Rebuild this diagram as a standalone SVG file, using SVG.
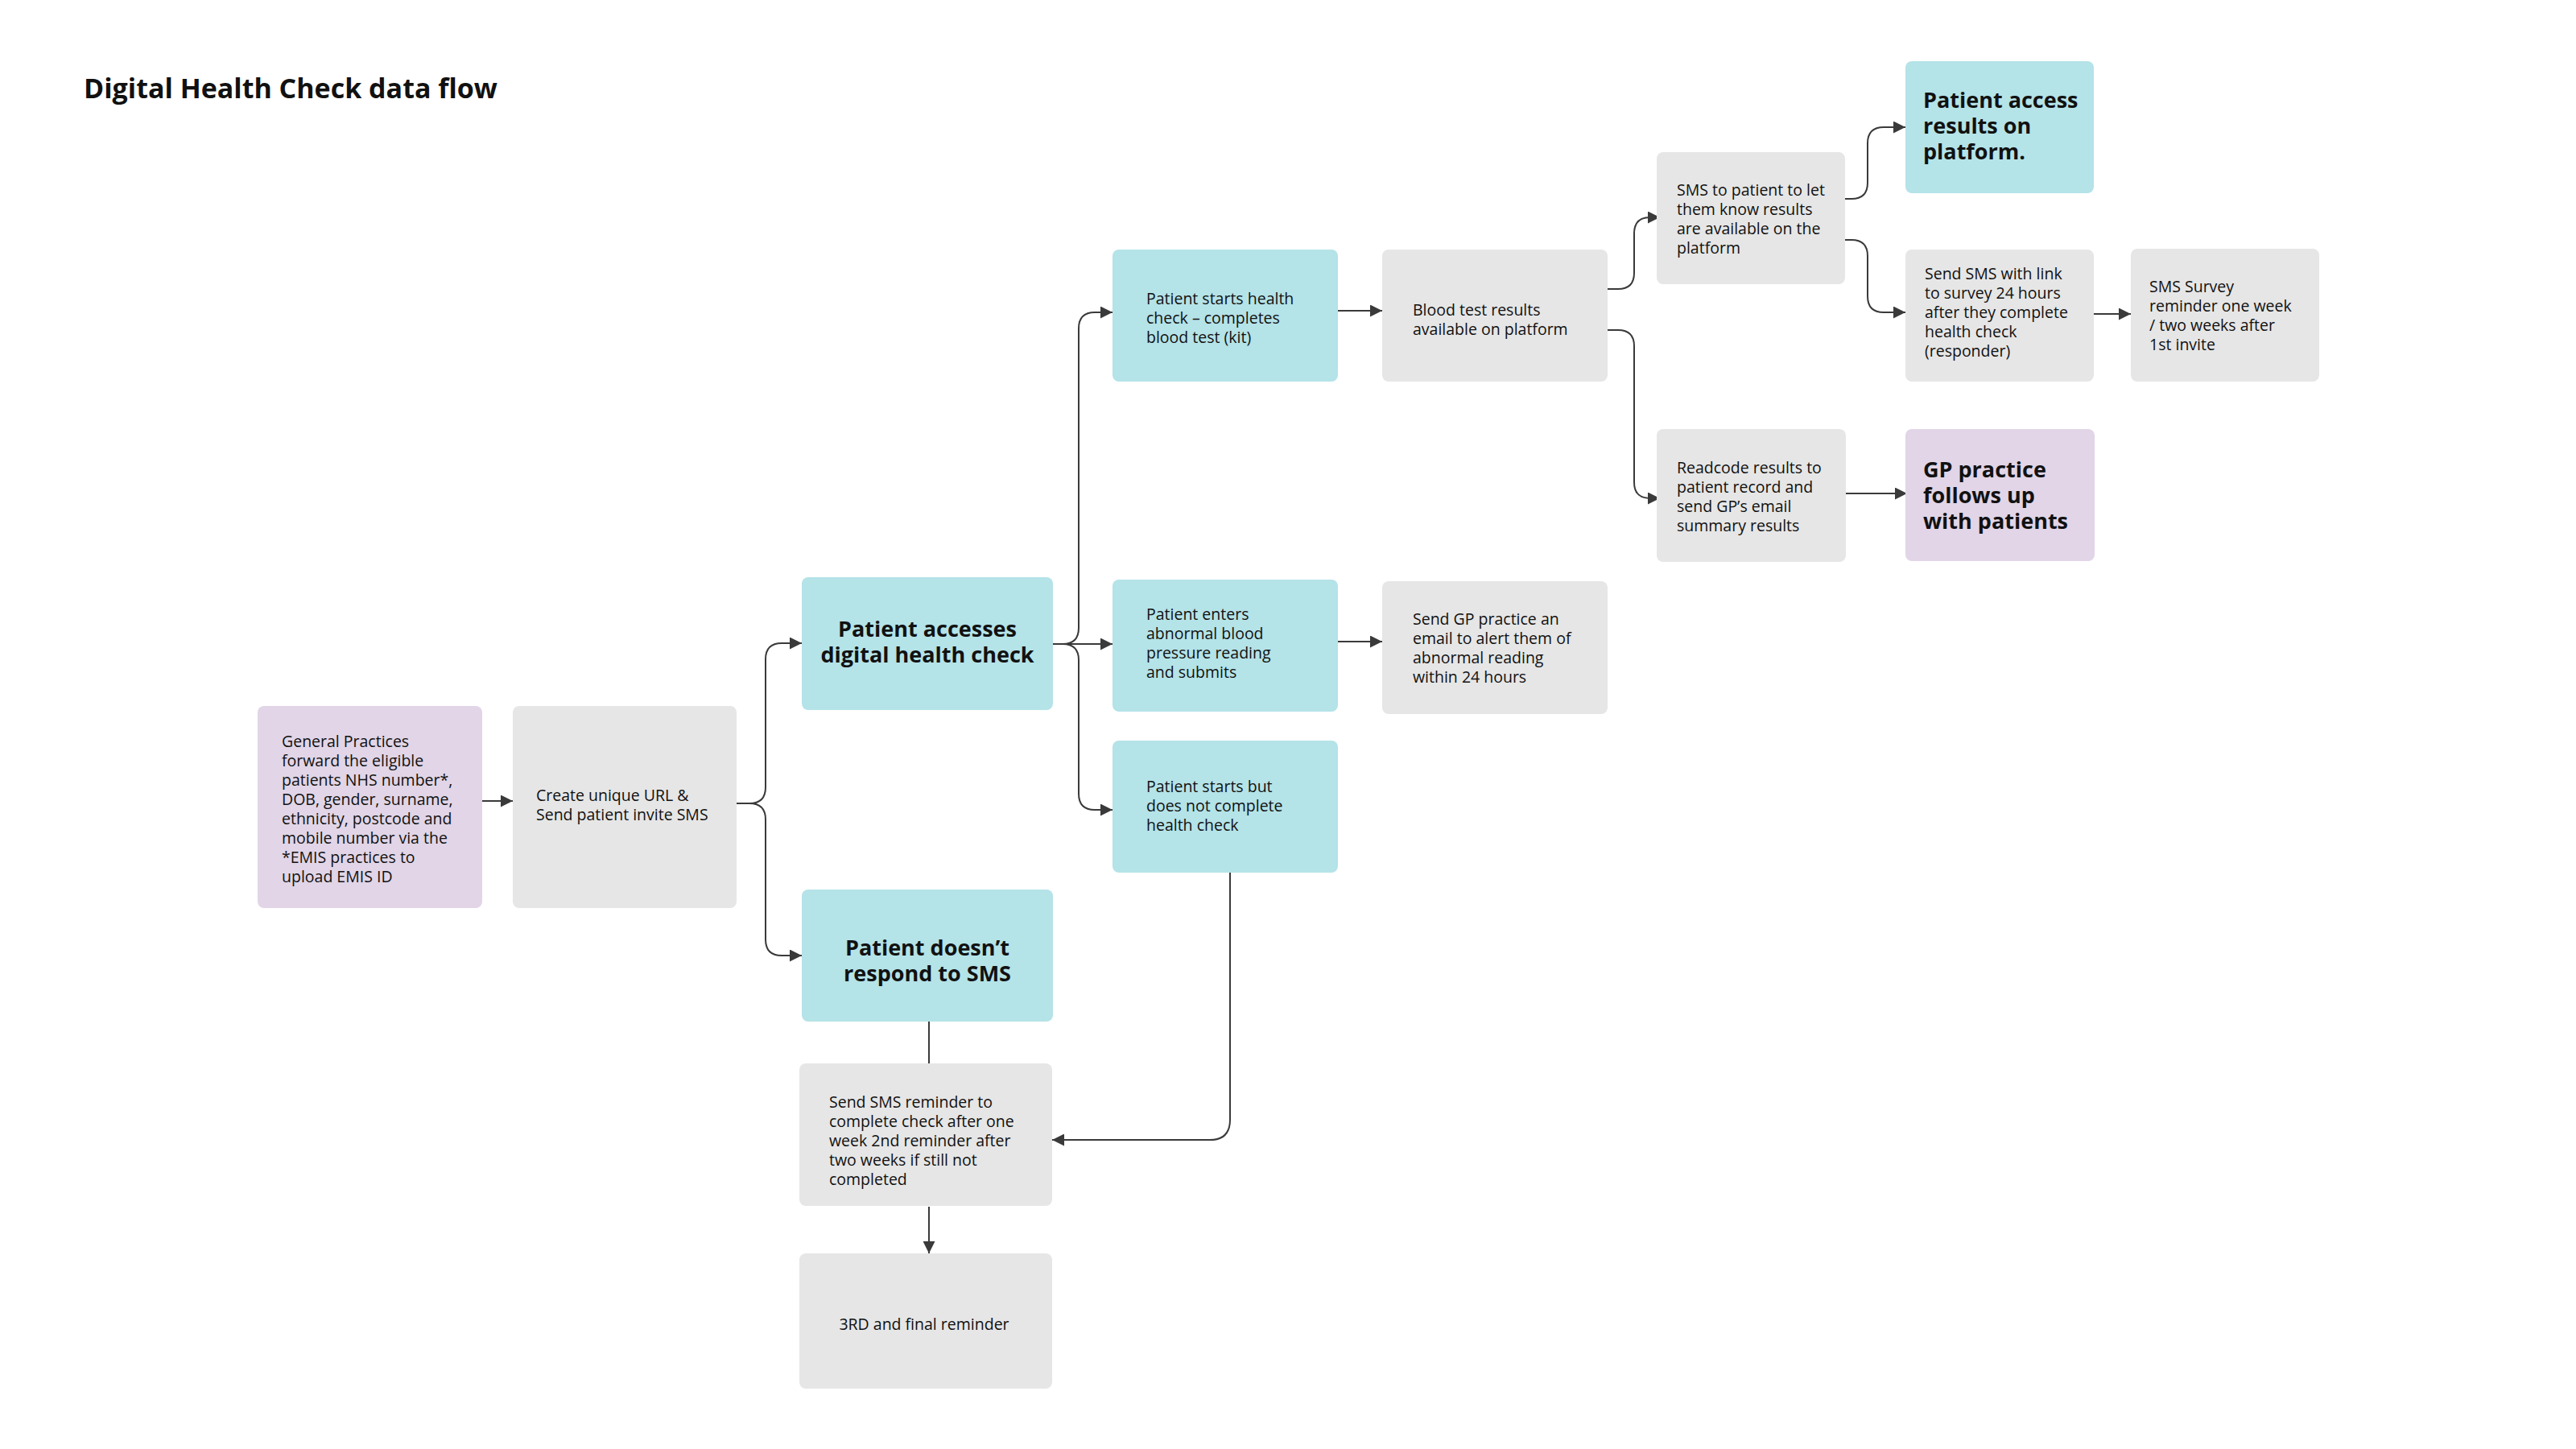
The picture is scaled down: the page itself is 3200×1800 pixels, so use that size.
<svg xmlns="http://www.w3.org/2000/svg" width="3200" height="1800" viewBox="0 0 3200 1800">
<defs>
<style>
.box{stroke:none}
.cy{fill:#B4E3E8}
.pu{fill:#E1D5E7}
.gr{fill:#E6E6E6}
text{font-family:"Open Sans","Liberation Sans",sans-serif;fill:#111}
.t{font-size:19.5px}
.b{font-size:27px;font-weight:700}
.c{text-anchor:middle}
.title{font-size:34px;font-weight:700}
.ln{fill:none;stroke:#3a3a3a;stroke-width:2}
</style>
<marker id="ah" markerUnits="userSpaceOnUse" markerWidth="16" markerHeight="15" refX="15" refY="7.5" orient="auto">
<path d="M0,0 L15,7.5 L0,15 z" fill="#3a3a3a"/>
</marker>
</defs>
<rect width="3200" height="1800" fill="#ffffff"/>
<text class="title" x="104" y="122">Digital Health Check data flow</text>

<g id="connectors">
<path class="ln" marker-end="url(#ah)" d="M578,995 H637"/>
<path class="ln" marker-end="url(#ah)" d="M915,998 H931 Q951,998 951,978 V819 Q951,799 971,799 H996"/>
<path class="ln" marker-end="url(#ah)" d="M915,998 H931 Q951,998 951,1018 V1167 Q951,1187 971,1187 H996"/>
<path class="ln" marker-end="url(#ah)" d="M1308,800 H1320 Q1340,800 1340,780 V408 Q1340,388 1360,388 H1382"/>
<path class="ln" marker-end="url(#ah)" d="M1308,800 H1382"/>
<path class="ln" marker-end="url(#ah)" d="M1308,800 H1320 Q1340,800 1340,820 V986 Q1340,1006 1360,1006 H1382"/>
<path class="ln" marker-end="url(#ah)" d="M1654,386 H1717"/>
<path class="ln" marker-end="url(#ah)" d="M1654,797 H1717"/>
<path class="ln" marker-end="url(#ah)" d="M1997,359 H2010 Q2030,359 2030,339 V290 Q2030,270 2050,270 H2062"/>
<path class="ln" marker-end="url(#ah)" d="M1997,410 H2010 Q2030,410 2030,430 V599 Q2030,619 2050,619 H2062"/>
<path class="ln" marker-end="url(#ah)" d="M2292,247 H2300 Q2320,247 2320,227 V178 Q2320,158 2340,158 H2367"/>
<path class="ln" marker-end="url(#ah)" d="M2292,298 H2300 Q2320,298 2320,318 V368 Q2320,388 2340,388 H2367"/>
<path class="ln" marker-end="url(#ah)" d="M2587,390 H2647"/>
<path class="ln" marker-end="url(#ah)" d="M2292,613 H2369"/>
<path class="ln" d="M1154,1269 V1321"/>
<path class="ln" marker-end="url(#ah)" d="M1154,1499 V1557"/>
<path class="ln" marker-end="url(#ah)" d="M1528,1084 V1391 Q1528,1416 1503,1416 H1307"/>
</g>

<g id="n1">
<rect class="box pu" x="320" y="877" width="279" height="251" rx="8"/>
<text class="t" x="350" y="928">General Practices</text>
<text class="t" x="350" y="952">forward the eligible</text>
<text class="t" x="350" y="976">patients NHS number*,</text>
<text class="t" x="350" y="1000">DOB, gender, surname,</text>
<text class="t" x="350" y="1024">ethnicity, postcode and</text>
<text class="t" x="350" y="1048">mobile number via the</text>
<text class="t" x="350" y="1072">*EMIS practices to</text>
<text class="t" x="350" y="1096">upload EMIS ID</text>
</g>
<g id="n2">
<rect class="box gr" x="637" y="877" width="278" height="251" rx="8"/>
<text class="t" x="666" y="995">Create unique URL &amp;</text>
<text class="t" x="666" y="1019">Send patient invite SMS</text>
</g>
<g id="n3">
<rect class="box cy" x="996" y="717" width="312" height="165" rx="8"/>
<text class="b c" x="1152" y="791">Patient accesses</text>
<text class="b c" x="1152" y="823">digital health check</text>
</g>
<g id="n4">
<rect class="box cy" x="996" y="1105" width="312" height="164" rx="8"/>
<text class="b c" x="1152" y="1187">Patient doesn’t</text>
<text class="b c" x="1152" y="1219">respond to SMS</text>
</g>
<g id="n5">
<rect class="box cy" x="1382" y="310" width="280" height="164" rx="8"/>
<text class="t" x="1424" y="378">Patient starts health</text>
<text class="t" x="1424" y="402">check – completes</text>
<text class="t" x="1424" y="426">blood test (kit)</text>
</g>
<g id="n6">
<rect class="box cy" x="1382" y="720" width="280" height="164" rx="8"/>
<text class="t" x="1424" y="770">Patient enters</text>
<text class="t" x="1424" y="794">abnormal blood</text>
<text class="t" x="1424" y="818">pressure reading</text>
<text class="t" x="1424" y="842">and submits</text>
</g>
<g id="n7">
<rect class="box cy" x="1382" y="920" width="280" height="164" rx="8"/>
<text class="t" x="1424" y="984">Patient starts but</text>
<text class="t" x="1424" y="1008">does not complete</text>
<text class="t" x="1424" y="1032">health check</text>
</g>
<g id="n8">
<rect class="box gr" x="1717" y="310" width="280" height="164" rx="8"/>
<text class="t" x="1755" y="392">Blood test results</text>
<text class="t" x="1755" y="416">available on platform</text>
</g>
<g id="n9">
<rect class="box gr" x="1717" y="722" width="280" height="165" rx="8"/>
<text class="t" x="1755" y="776">Send GP practice an</text>
<text class="t" x="1755" y="800">email to alert them of</text>
<text class="t" x="1755" y="824">abnormal reading</text>
<text class="t" x="1755" y="848">within 24 hours</text>
</g>
<g id="n10">
<rect class="box gr" x="2058" y="189" width="234" height="164" rx="8"/>
<text class="t" x="2083" y="243">SMS to patient to let</text>
<text class="t" x="2083" y="267">them know results</text>
<text class="t" x="2083" y="291">are available on the</text>
<text class="t" x="2083" y="315">platform</text>
</g>
<g id="n11">
<rect class="box cy" x="2367" y="76" width="234" height="164" rx="8"/>
<text class="b" x="2389" y="134">Patient access</text>
<text class="b" x="2389" y="166">results on</text>
<text class="b" x="2389" y="198">platform.</text>
</g>
<g id="n12">
<rect class="box gr" x="2367" y="310" width="234" height="164" rx="8"/>
<text class="t" x="2391" y="347">Send SMS with link</text>
<text class="t" x="2391" y="371">to survey 24 hours</text>
<text class="t" x="2391" y="395">after they complete</text>
<text class="t" x="2391" y="419">health check</text>
<text class="t" x="2391" y="443">(responder)</text>
</g>
<g id="n13">
<rect class="box gr" x="2647" y="309" width="234" height="165" rx="8"/>
<text class="t" x="2670" y="363">SMS Survey</text>
<text class="t" x="2670" y="387">reminder one week</text>
<text class="t" x="2670" y="411">/ two weeks after</text>
<text class="t" x="2670" y="435">1st invite</text>
</g>
<g id="n14">
<rect class="box gr" x="2058" y="533" width="235" height="165" rx="8"/>
<text class="t" x="2083" y="588">Readcode results to</text>
<text class="t" x="2083" y="612">patient record and</text>
<text class="t" x="2083" y="636">send GP’s email</text>
<text class="t" x="2083" y="660">summary results</text>
</g>
<g id="n15">
<rect class="box pu" x="2367" y="533" width="235" height="164" rx="8"/>
<text class="b" x="2389" y="593">GP practice</text>
<text class="b" x="2389" y="625">follows up</text>
<text class="b" x="2389" y="657">with patients</text>
</g>
<g id="n16">
<rect class="box gr" x="993" y="1321" width="314" height="177" rx="8"/>
<text class="t" x="1030" y="1376">Send SMS reminder to</text>
<text class="t" x="1030" y="1400">complete check after one</text>
<text class="t" x="1030" y="1424">week 2nd reminder after</text>
<text class="t" x="1030" y="1448">two weeks if still not</text>
<text class="t" x="1030" y="1472">completed</text>
</g>
<g id="n17">
<rect class="box gr" x="993" y="1557" width="314" height="168" rx="8"/>
<text class="t c" x="1148" y="1652">3RD and final reminder</text>
</g>
</svg>
